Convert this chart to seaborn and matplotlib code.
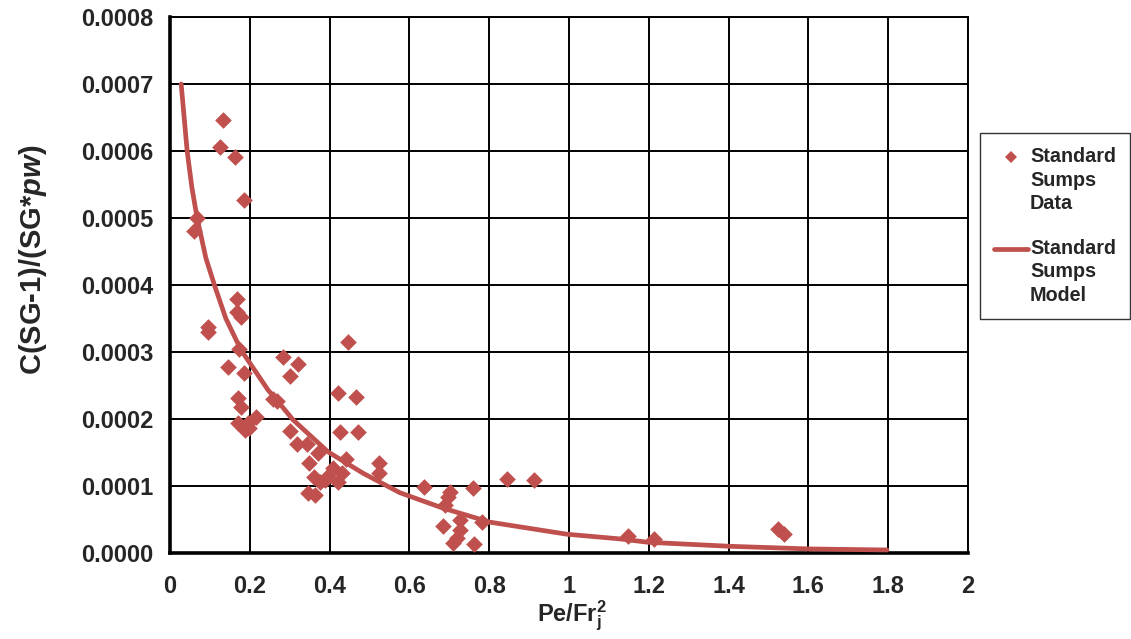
import matplotlib
matplotlib.use("Agg")
import matplotlib.pyplot as plt
from matplotlib.lines import Line2D
from matplotlib.legend_handler import HandlerLine2D
import seaborn as sns
import pandas as pd

# Measured sump data: Pe/Fr_j^2 versus C(SG-1)/(SG*pw)
data_x = [0.133, 0.125, 0.163, 0.185, 0.068, 0.060, 0.095, 0.095, 0.168, 0.168,
          0.178, 0.173, 0.145, 0.185, 0.283, 0.321, 0.301, 0.446, 0.421, 0.466,
          0.268, 0.258, 0.170, 0.178, 0.170, 0.188, 0.195, 0.216, 0.198, 0.301,
          0.318, 0.343, 0.371, 0.348, 0.426, 0.471, 0.441, 0.524, 0.524, 0.409,
          0.431, 0.421, 0.361, 0.376, 0.346, 0.363, 0.388, 0.396,
          0.637, 0.702, 0.697, 0.689, 0.759, 0.845, 0.912, 0.727, 0.782, 0.684,
          0.727, 0.719, 0.709, 0.762, 1.148, 1.213, 1.524, 1.539]
data_y = [6.46, 6.06, 5.91, 5.27, 5.00, 4.81, 3.37, 3.30, 3.79, 3.60,
          3.52, 3.04, 2.78, 2.69, 2.93, 2.82, 2.64, 3.15, 2.39, 2.33,
          2.27, 2.30, 2.31, 2.18, 1.94, 1.84, 1.94, 2.03, 1.87, 1.82,
          1.63, 1.63, 1.49, 1.34, 1.81, 1.81, 1.40, 1.34, 1.19, 1.27,
          1.19, 1.06, 1.13, 1.06, 0.90, 0.87, 1.09, 1.15,
          0.985, 0.91, 0.84, 0.72, 0.97, 1.10, 1.09, 0.49, 0.46, 0.40,
          0.34, 0.22, 0.15, 0.13, 0.25, 0.21, 0.36, 0.28]
data_y = [v * 1e-4 for v in data_y]

# Fitted model curve
model_x = [0.028, 0.043, 0.055, 0.068, 0.090, 0.113, 0.140, 0.178, 0.246, 0.268,
           0.308, 0.396, 0.484, 0.576, 0.684, 0.802, 0.995, 1.128, 1.198, 1.403,
           1.604, 1.797]
model_y = [7.00, 6.00, 5.45, 5.00, 4.40, 3.97, 3.50, 3.03, 2.43, 2.28,
           1.99, 1.51, 1.19, 0.90, 0.67, 0.46, 0.28, 0.21, 0.16, 0.10,
           0.06, 0.045]
model_y = [v * 1e-4 for v in model_y]

x_ticks = [0, 0.2, 0.4, 0.6, 0.8, 1, 1.2, 1.4, 1.6, 1.8, 2]
x_tick_labels = ["0", "0.2", "0.4", "0.6", "0.8", "1", "1.2", "1.4", "1.6", "1.8", "2"]
y_ticks = [0.0, 0.0001, 0.0002, 0.0003, 0.0004, 0.0005, 0.0006, 0.0007, 0.0008]
y_tick_labels = ["0.0000", "0.0001", "0.0002", "0.0003", "0.0004",
                 "0.0005", "0.0006", "0.0007", "0.0008"]

series_labels = ["Standard\nSumps\nData", "Standard\nSumps\nModel"]

RED = "#C0504D"
TICK_FS = 17
XTITLE_FS = 17
YTITLE_FS = 21
LEGEND_FS = 14.2
LEGEND_LS = 1.3

sns.set_style("white")
plt.rcParams["font.family"] = ["Liberation Sans", "DejaVu Sans"]
plt.rcParams["font.weight"] = "bold"
plt.rcParams["mathtext.fontset"] = "custom"
plt.rcParams["mathtext.rm"] = "Liberation Sans:bold"
plt.rcParams["mathtext.bf"] = "Liberation Sans:bold"
plt.rcParams["mathtext.it"] = "Liberation Sans:bold:italic"

fig = plt.figure(figsize=(11.31, 6.39), dpi=100)
ax = fig.add_axes([0.1503, 0.1346, 0.7056, 0.8388])

df_data = pd.DataFrame({"x": data_x, "y": data_y})
df_model = pd.DataFrame({"x": model_x, "y": model_y})

sns.lineplot(data=df_model, x="x", y="y", ax=ax, color=RED, linewidth=3.4,
             sort=False, estimator=None, zorder=3, legend=False)
sns.scatterplot(data=df_data, x="x", y="y", ax=ax, color=RED, marker="D",
                s=72, linewidth=0, zorder=4, legend=False)

ax.set_xlim(0, 2)
ax.set_ylim(0, 0.0008)
ax.set_xticks(x_ticks)
ax.set_xticklabels(x_tick_labels)
ax.set_yticks(y_ticks)
ax.set_yticklabels(y_tick_labels)
ax.tick_params(axis="both", length=0, labelsize=TICK_FS)
ax.tick_params(axis="y", pad=12)
ax.tick_params(axis="x", pad=16)
for lbl in ax.get_xticklabels() + ax.get_yticklabels():
    lbl.set_fontweight("bold")

ax.grid(True, color="black", linewidth=1.4)
ax.set_axisbelow(True)
for side in ["left", "bottom", "right", "top"]:
    ax.spines[side].set_visible(True)
    ax.spines[side].set_color("black")
ax.spines["left"].set_linewidth(2.6)
ax.spines["bottom"].set_linewidth(2.6)
ax.spines["right"].set_linewidth(1.4)
ax.spines["top"].set_linewidth(1.4)

ax.set_xlabel(r"Pe/Fr$_{\mathrm{j}}^{\mathrm{2}}$", fontsize=XTITLE_FS,
              fontweight="bold")
ax.set_ylabel(r"C(SG-1)/(SG*$\mathit{pw}$)", fontsize=YTITLE_FS,
              fontweight="bold")
ax.xaxis.set_label_coords(0.504, -0.086)
ax.yaxis.set_label_coords(-0.152, 0.547)


class FirstLineHandler(HandlerLine2D):
    """Place the legend key beside the first line of a multi-line label."""

    def __init__(self, shift, **kw):
        super().__init__(**kw)
        self.shift = shift

    def create_artists(self, legend, orig_handle, xdescent, ydescent,
                       width, height, fontsize, trans):
        return super().create_artists(legend, orig_handle, xdescent,
                                      ydescent - 2 * self.shift, width,
                                      height, fontsize, trans)


key_data = Line2D([], [], linestyle="none", marker="D", markersize=6.5,
                  markerfacecolor=RED, markeredgewidth=0)
key_model = Line2D([], [], color=RED, linewidth=3.4)
shift = LEGEND_FS * LEGEND_LS * 0.92
leg = ax.legend([key_data, key_model], series_labels,
                handler_map={key_data: FirstLineHandler(shift, numpoints=1),
                             key_model: FirstLineHandler(shift)},
                loc="upper left", bbox_to_anchor=(0.8665, 0.792),
                bbox_transform=fig.transFigure, borderaxespad=0,
                frameon=True, fancybox=False, edgecolor="black",
                handlelength=1.7, labelspacing=1.3, borderpad=0.72,
                handletextpad=0.12,
                prop={"weight": "bold", "size": LEGEND_FS})
leg.get_frame().set_linewidth(1.0)
for t in leg.get_texts():
    t.set_linespacing(LEGEND_LS)

fig.savefig("out.png", dpi=100)
